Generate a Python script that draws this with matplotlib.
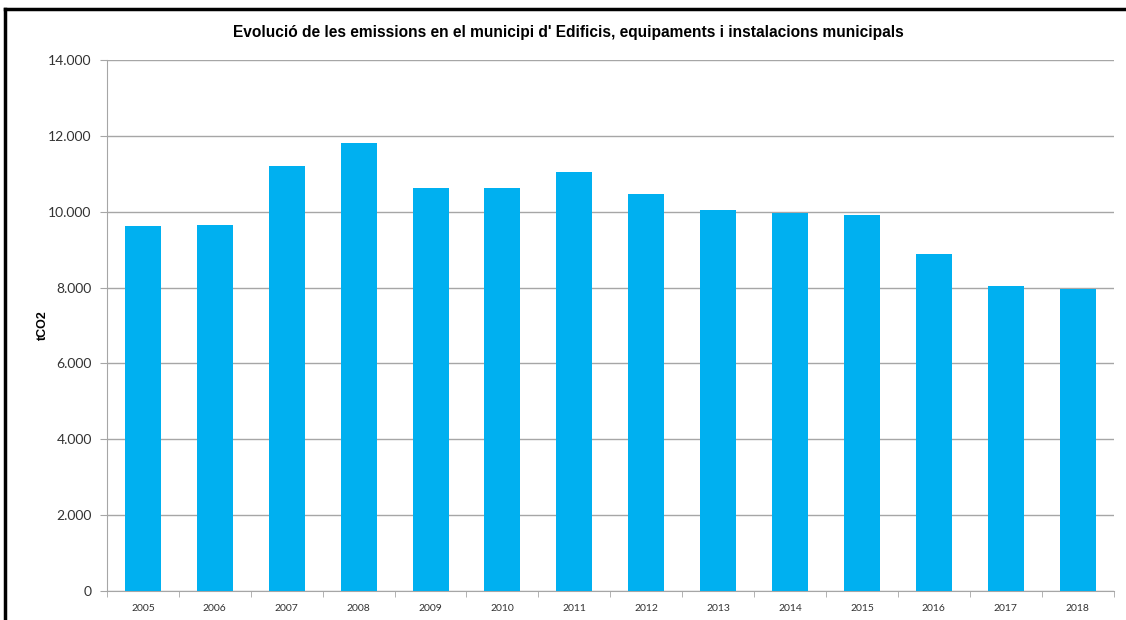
import matplotlib
matplotlib.use('Agg')
import matplotlib.pyplot as plt
from matplotlib.ticker import FuncFormatter
from matplotlib.lines import Line2D

# Dades de l'evolucio d'emissions (tCO2)
anys = ['2005', '2006', '2007', '2008', '2009', '2010', '2011',
        '2012', '2013', '2014', '2015', '2016', '2017', '2018']
emissions = [9610, 9650, 11190, 11790, 10620, 10620, 11050,
             10450, 10050, 9970, 9900, 8870, 8040, 7960]

titol = "Evolució de les emissions en el municipi d' Edificis, equipaments i instalacions municipals"
color_barra = '#00B0F0'
gris = '#A6A6A6'

fig = plt.figure(figsize=(11.26, 6.2), dpi=100)
ax = fig.add_axes([0.095, 0.046, 0.894, 0.858])

x = range(len(anys))
ax.bar(x, emissions, width=0.5, color=color_barra, zorder=3)

ax.set_xlim(-0.5, len(anys) - 0.5)
ax.set_ylim(0, 14000)
ax.set_yticks(range(0, 14001, 2000))
ax.yaxis.set_major_formatter(FuncFormatter(lambda v, p: f'{int(v):,}'.replace(',', '.')))
ax.grid(axis='y', color=gris, linewidth=1, zorder=0)

ax.set_xticks(list(x))
ax.set_xticklabels(anys, fontsize=7.5, family='Lato', color='#333333')
ax.set_xticks([i + 0.5 for i in range(-1, len(anys))], minor=True)
ax.tick_params(axis='x', which='major', length=0, pad=9)
ax.tick_params(axis='x', which='minor', length=4, color=gris, direction='out')
ax.tick_params(axis='y', length=5, color=gris, labelsize=10, pad=6, labelcolor='#333333')
for lab in ax.get_yticklabels():
    lab.set_family('Lato')

for s in ['top', 'right']:
    ax.spines[s].set_visible(False)
ax.spines['left'].set_color(gris)
ax.spines['bottom'].set_color(gris)

ax.set_ylabel('tCO2', fontsize=9, fontweight='bold', family='Liberation Sans')
ax.yaxis.set_label_coords(-0.058, 0.5)

fig.text(0.505, 0.948, titol, ha='center', va='center', fontsize=11.2,
         fontweight='bold', family='Liberation Sans')

# marc negre (nomes superior i esquerre visibles)
fig.add_artist(Line2D([0.0044, 1.0], [0.9855, 0.9855], transform=fig.transFigure,
                      color='black', linewidth=2.5))
fig.add_artist(Line2D([0.0044, 0.0044], [0.0, 0.9855], transform=fig.transFigure,
                      color='black', linewidth=2.5))

fig.savefig('out.png', dpi=100)
